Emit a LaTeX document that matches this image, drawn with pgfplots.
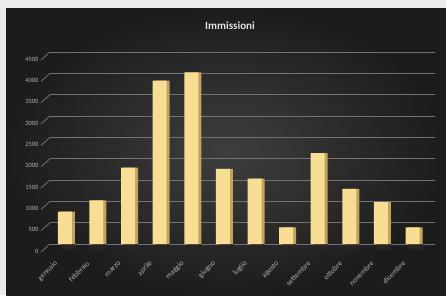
\documentclass[border=0pt]{standalone}
\usepackage{fontspec}
\setmainfont{Carlito}
\usepackage{pgfplots}
\pgfplotsset{compat=1.18}
\definecolor{lightbg}{HTML}{EBEBEB}
\definecolor{barface}{HTML}{F7DE92}
\definecolor{barside}{HTML}{C2A35C}
\definecolor{gridc}{HTML}{727272}
\definecolor{labc}{HTML}{B0B0B0}
\definecolor{bgin}{HTML}{3E3E3E}
\definecolor{bgout}{HTML}{1C1C1C}
\begin{document}
\begin{tikzpicture}[x=1bp,y=1bp]
\useasboundingbox (0,0) rectangle (446,295);
\fill[lightbg] (0,0) rectangle (446,295);
\shade[inner color=bgin, outer color=bgout] (6,0) rectangle (446,286);
\node[font=\bfseries\fontsize{11bp}{13bp}\selectfont, text=black!12] at (230,269) {Immissioni};
\begin{axis}[
  at={(50bp,51bp)}, anchor=south west,
  scale only axis, width=385bp, height=192bp,
  xmin=-0.47, xmax=11.71, ymin=0, ymax=4500,
  axis line style={draw=none},
  ybar, bar width=14bp,
  xtick=data,
  xticklabels={gennaio,febbraio,marzo,aprile,maggio,giugno,luglio,agosto,settembre,ottobre,novembre,dicembre},
  ytick={0,500,...,4500},
  ymajorgrids, grid style={gridc, line width=0.9bp},
  major tick length=0pt, tick style={draw=none},
  yticklabel style={font=\fontsize{6.5bp}{7bp}\selectfont, text=labc, xshift=-8bp, yshift=-7bp},
  xticklabel style={font=\fontsize{7.5bp}{8bp}\selectfont, text=labc, xshift=-6bp, yshift=-16bp, rotate=45, anchor=east},
  /pgf/number format/assume math mode=true,
  /pgf/number format/1000 sep={},
  clip=false,
]
\pgfplotsinvokeforeach{0,500,...,4500}{
  \draw[gridc, line width=0.8bp] (axis cs:-0.47,#1) -- ++(-9bp,-8bp);
}
\addplot[draw=none, fill=black!85, bar shift=3bp, forget plot] coordinates {
(0,-130) (1,-130) (2,-130) (3,-130) (4,-130) (5,-130) (6,-130) (7,-130) (8,-130) (9,-130) (10,-130) (11,-130)};
\addplot[draw=none, fill=barside, bar shift=3bp] coordinates {
(0,760) (1,1020) (2,1790) (3,3830) (4,4020) (5,1760) (6,1530) (7,390) (8,2130) (9,1290) (10,980) (11,390)};
\addplot[draw=none, fill=barface, bar shift=0bp] coordinates {
(0,760) (1,1020) (2,1790) (3,3830) (4,4020) (5,1760) (6,1530) (7,390) (8,2130) (9,1290) (10,980) (11,390)};
\end{axis}
\end{tikzpicture}
\end{document}
